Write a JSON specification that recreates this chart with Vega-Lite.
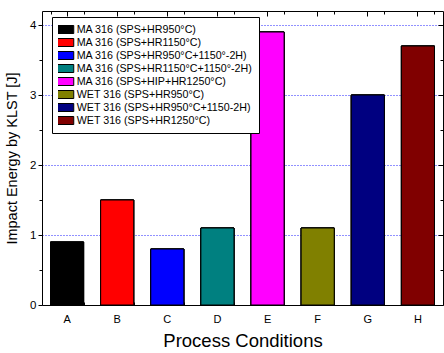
{
  "$schema": "https://vega.github.io/schema/vega-lite/v6.json",
  "width": 401,
  "height": 294,
  "autosize": "none",
  "padding": {"left": 42, "top": 11, "right": 1, "bottom": 48},
  "background": "white",
  "config": {
    "font": "Liberation Sans",
    "view": {"stroke": null},
    "axis": {"labelFont": "Liberation Sans", "titleFont": "Liberation Sans", "labelColor": "#000", "titleColor": "#000", "domainColor": "#000", "tickColor": "#000", "titleFontWeight": "normal"}
  },
  "data": {"values": [
    {"cond": "A", "value": 0.9, "sample": "MA 316 (SPS+HR950°C)"},
    {"cond": "B", "value": 1.5, "sample": "MA 316 (SPS+HR1150°C)"},
    {"cond": "C", "value": 0.8, "sample": "MA 316 (SPS+HR950°C+1150°-2H)"},
    {"cond": "D", "value": 1.1, "sample": "MA 316 (SPS+HR1150°C+1150°-2H)"},
    {"cond": "E", "value": 3.9, "sample": "MA 316 (SPS+HIP+HR1250°C)"},
    {"cond": "F", "value": 1.1, "sample": "WET 316 (SPS+HR950°C)"},
    {"cond": "G", "value": 3.0, "sample": "WET 316 (SPS+HR950°C+1150-2H)"},
    {"cond": "H", "value": 3.7, "sample": "WET 316 (SPS+HR1250°C)"}
  ]},
  "resolve": {"axis": {"x": "independent", "y": "independent"}},
  "layer": [
    {
      "mark": {"type": "bar", "stroke": "#000", "strokeWidth": 1},
      "encoding": {
        "x": {"field": "cond", "type": "nominal", "scale": {"paddingInner": 0.34, "paddingOuter": 0.17},
              "axis": {"orient": "bottom", "title": "Process Conditions", "titleFontSize": 18.5, "titlePadding": 7, "labelAngle": 0, "labelFontSize": 11, "tickSize": -5, "labelPadding": 13, "domainWidth": 1, "grid": false}},
        "y": {"field": "value", "type": "quantitative", "scale": {"domain": [0, 4.2], "nice": false},
              "axis": {"orient": "left", "title": "Impact Energy by KLST [J]", "titleFontSize": 14.5, "titlePadding": 10, "values": [0, 1, 2, 3, 4], "labelFontSize": 11.5, "tickSize": 4, "labelPadding": 2, "grid": true, "gridColor": "#2222ff", "gridDash": [1, 2], "gridWidth": 1, "domainWidth": 1}},
        "color": {"field": "sample", "type": "nominal",
          "scale": {"domain": ["MA 316 (SPS+HR950°C)", "MA 316 (SPS+HR1150°C)", "MA 316 (SPS+HR950°C+1150°-2H)", "MA 316 (SPS+HR1150°C+1150°-2H)", "MA 316 (SPS+HIP+HR1250°C)", "WET 316 (SPS+HR950°C)", "WET 316 (SPS+HR950°C+1150-2H)", "WET 316 (SPS+HR1250°C)"],
                    "range": ["#000000", "#ff0000", "#0000ff", "#008080", "#ff00ff", "#808000", "#000080", "#800000"]},
          "legend": {"orient": "none", "legendX": 10, "legendY": 6, "title": null, "symbolType": "M-2.6,-1H2.6V1H-2.6Z", "symbolSize": 64, "symbolStrokeColor": "#000", "symbolStrokeWidth": 1, "symbolOpacity": 1, "labelFontSize": 10.7, "labelFont": "Liberation Sans", "labelColor": "#000", "labelLimit": 300, "rowPadding": 0, "clipHeight": 13, "labelOffset": 8, "padding": 6, "strokeColor": "#000", "fillColor": "#fff"}}
      }
    },
    {
      "mark": {"type": "bar", "stroke": "#000", "strokeWidth": 1},
      "encoding": {
        "x": {"field": "cond", "type": "nominal", "axis": {"orient": "bottom", "labels": false, "title": null, "domain": false, "tickBand": "extent", "tickSize": -3, "grid": false}},
        "y": {"field": "value", "type": "quantitative", "axis": {"orient": "left", "labels": false, "title": null, "domain": false, "values": [0.5, 1.5, 2.5, 3.5], "tickSize": 3, "grid": false}},
        "color": {"field": "sample", "type": "nominal"}
      }
    },
    {
      "mark": {"type": "bar", "stroke": "#000", "strokeWidth": 1},
      "encoding": {
        "x": {"field": "cond", "type": "nominal", "axis": {"orient": "top", "labels": false, "title": null, "tickSize": -5, "grid": false}},
        "y": {"field": "value", "type": "quantitative", "axis": {"orient": "right", "labels": false, "title": null, "values": [0, 1, 2, 3, 4], "tickSize": -5, "grid": false}},
        "color": {"field": "sample", "type": "nominal"}
      }
    },
    {
      "mark": {"type": "bar", "stroke": "#000", "strokeWidth": 1},
      "encoding": {
        "x": {"field": "cond", "type": "nominal", "axis": {"orient": "top", "labels": false, "title": null, "domain": false, "tickBand": "extent", "tickSize": -3, "grid": false}},
        "y": {"field": "value", "type": "quantitative", "axis": {"orient": "right", "labels": false, "title": null, "domain": false, "values": [0.5, 1.5, 2.5, 3.5], "tickSize": -3, "grid": false}},
        "color": {"field": "sample", "type": "nominal"}
      }
    }
  ]
}
